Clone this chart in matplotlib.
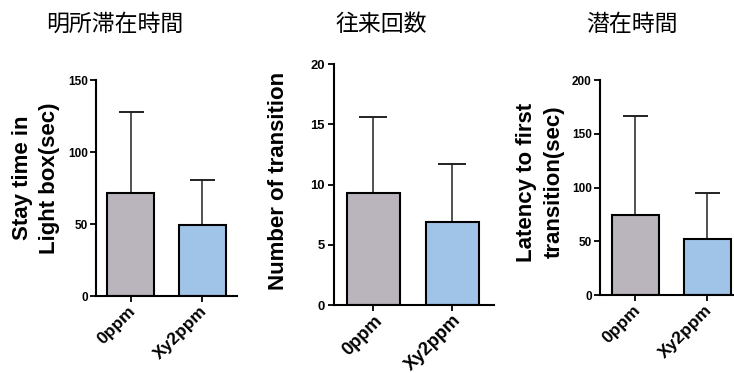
import matplotlib
matplotlib.use("Agg")
import matplotlib.pyplot as plt
import matplotlib.transforms as mtransforms

# group labels and colours shared by all three panels
groups = ["0ppm", "Xy2ppm"]
bar_colors = ["#bab4bc", "#a0c4e8"]

# panel 1: time spent in the light box
stay_mean = [71.5, 49.3]
stay_sd = [56.3, 31.3]

# panel 2: number of transitions
trans_mean = [9.3, 6.9]
trans_sd = [6.3, 4.8]

# panel 3: latency to first transition
lat_mean = [74.4, 52.0]
lat_sd = [92.1, 43.0]

titles = ["明所滞在時間", "往来回数", "潜在時間"]
ylabels = ["Stay time in\nLight box(sec)", "Number of transition",
           "Latency to first\ntransition(sec)"]
yticks = [[0, 50, 100, 150], [0, 5, 10, 15, 20], [0, 50, 100, 150, 200]]

LABEL_FONT = ["Liberation Sans", "DejaVu Sans"]
CJK_FONT = ["Noto Sans CJK JP", "DejaVu Sans"]

fig = plt.figure(figsize=(7.34, 3.73), dpi=100)

# axes boxes (left, bottom, width, height) and x ranges for each panel
boxes = [(0.1308, 0.2064, 0.1921, 0.5791),
         (0.4550, 0.1823, 0.2180, 0.6461),
         (0.8174, 0.2091, 0.1826, 0.5764)]
xlims = [(-0.48, 1.48), (-0.50, 1.53), (-0.49, 1.37)]
widths = [0.65, 0.67, 0.65]
# the middle panel was pasted in slightly larger
scales = [1.0, 1.1, 1.0]
name_size = [12.5, 13.2, 12.5]
# anchor offset of the slanted group names from each tick (pixels)
name_offset = [(-3, -7), (0, -7), (-3, -7)]
title_x = [0.157, 0.52, 0.861]
# centre of each y label block, in figure fraction
ylabel_pos = [(0.049, 0.523), (0.380, 0.515), (0.736, 0.512)]

data = [(stay_mean, stay_sd), (trans_mean, trans_sd), (lat_mean, lat_sd)]

for i, (mean, sd) in enumerate(data):
    ax = fig.add_axes(boxes[i])
    s = scales[i]
    x = list(range(len(groups)))
    ax.bar(x, mean, width=widths[i], color=bar_colors, edgecolor="black",
           linewidth=1.5, zorder=2)
    # upper-only error bars, like the usual bar + SD plot
    ax.errorbar(x, mean, yerr=[[0] * len(sd), sd], fmt="none",
                ecolor="#222222", elinewidth=1.1, capsize=9 * s,
                capthick=1.4, zorder=1)

    ax.set_xlim(*xlims[i])
    ax.set_ylim(0, yticks[i][-1])
    ax.set_yticks(yticks[i])
    ax.set_xticks(x)
    ax.set_xticklabels([])
    for lab in ax.get_yticklabels():
        lab.set_fontsize(8.5 * s)
        lab.set_fontweight("bold")
        lab.set_family(LABEL_FONT)

    # group names, slanted 45 degrees and hung from the tick marks
    dx, dy = name_offset[i]
    shift = mtransforms.ScaledTranslation(dx / 100, dy / 100,
                                          fig.dpi_scale_trans)
    for xi, name in zip(x, groups):
        ax.text(xi, 0, name, rotation=45, ha="right", va="top",
                rotation_mode="anchor", fontsize=name_size[i],
                fontweight="bold", family=LABEL_FONT,
                transform=ax.get_xaxis_transform() + shift)

    for side in ("top", "right"):
        ax.spines[side].set_visible(False)
    for side in ("left", "bottom"):
        ax.spines[side].set_linewidth(1.5)
    ax.tick_params(axis="both", direction="out", length=4 * s, width=1.3,
                   pad=2)

    ax.set_ylabel(ylabels[i], fontsize=16, fontweight="bold",
                  family=LABEL_FONT, linespacing=1.4)
    ax.yaxis.set_label_coords(*ylabel_pos[i], transform=fig.transFigure)
    ax.yaxis.label.set_verticalalignment("center")

    fig.text(title_x[i], 0.935, titles[i], ha="center", va="center",
             fontsize=16.5, family=CJK_FONT)

fig.savefig("out.png", dpi=100, facecolor="white")
